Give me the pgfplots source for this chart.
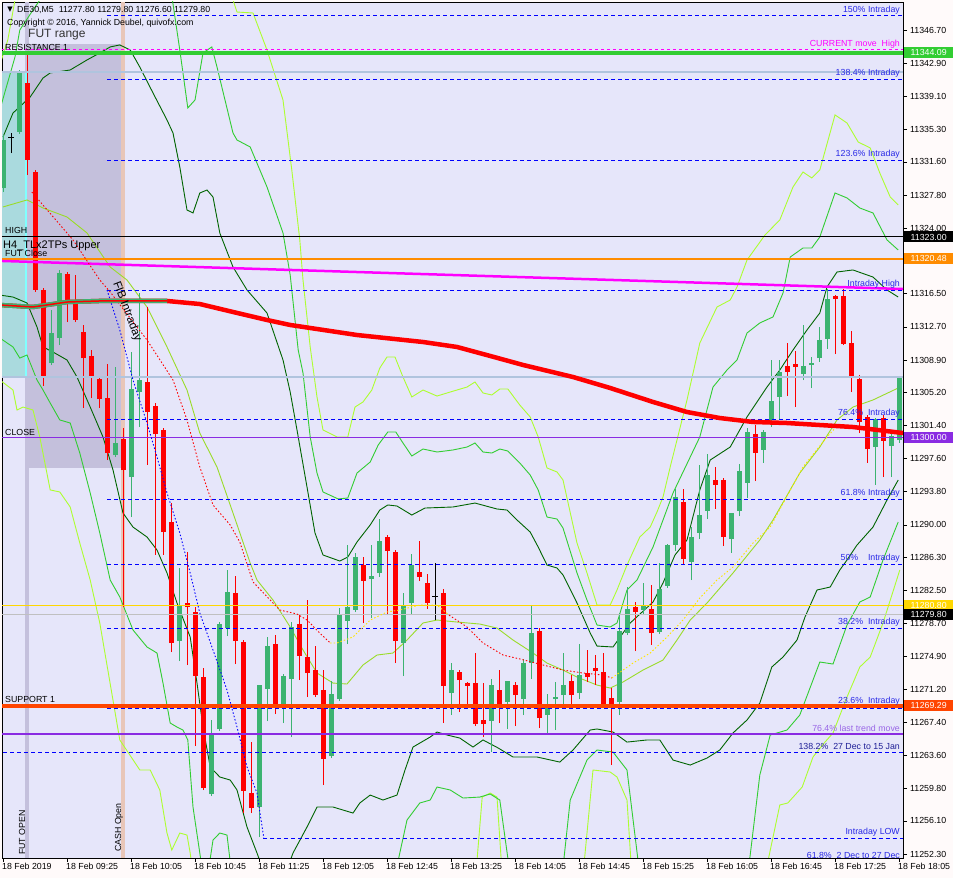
\documentclass[border=0pt]{standalone}
\usepackage{pgfplots}
\pgfplotsset{compat=1.18}
\usepackage{pgfplotstable}
\usepackage{fontspec}
\setmainfont{Liberation Sans}
\newfontfamily\dejavu{DejaVu Sans}
\definecolor{lav}{RGB}{230,230,250}
\definecolor{snowc}{RGB}{255,250,250}
\definecolor{cgreen}{RGB}{60,179,113}
\definecolor{dgreen}{RGB}{0,100,0}
\definecolor{mgreen}{RGB}{50,205,50}
\definecolor{lgreen}{RGB}{173,255,47}
\definecolor{midline}{RGB}{154,220,40}
\definecolor{futbox}{RGB}{196,192,220}
\definecolor{tealbox}{RGB}{170,218,222}
\definecolor{cyanl}{RGB}{128,255,255}
\definecolor{cashc}{RGB}{232,198,184}
\definecolor{steel}{RGB}{176,196,222}
\definecolor{orng}{RGB}{255,140,0}
\definecolor{ored}{RGB}{255,69,0}
\definecolor{bviolet}{RGB}{138,43,226}
\definecolor{goldc}{RGB}{255,215,0}
\definecolor{silv}{RGB}{192,192,192}
\definecolor{mag}{RGB}{255,0,255}
\definecolor{dblue}{RGB}{0,0,255}
\definecolor{dred}{RGB}{255,0,0}
\definecolor{yel}{RGB}{255,230,0}
\definecolor{fibtxt}{RGB}{40,40,230}
\definecolor{trendtxt}{RGB}{153,102,230}
\definecolor{navytxt}{RGB}{30,30,150}
\newcommand{\lab}{\fontsize{8.8}{10}\selectfont}
\newcommand{\fibfont}{\fontsize{11.5}{13}\selectfont}

\pgfplotstableread{
i o h l c
0 11328.60 11334.67 11328.14 11334.10
2 11335.02 11342.12 11334.79 11341.77
6 11308.55 11314.62 11308.32 11311.99
7 11311.42 11319.21 11310.61 11318.86
14 11298.01 11308.09 11297.78 11299.39
16 11295.49 11309.81 11290.91 11305.57
17 11305.23 11316.57 11301.22 11306.60
22 11276.70 11285.07 11274.41 11280.83
26 11259.18 11267.65 11258.95 11265.94
27 11266.62 11278.88 11266.39 11278.65
28 11278.19 11284.84 11277.28 11282.32
32 11257.69 11271.66 11254.25 11271.66
33 11271.21 11277.16 11267.54 11276.13
35 11269.14 11272.92 11267.31 11272.69
36 11272.35 11278.88 11265.71 11278.31
41 11263.53 11272.12 11263.30 11270.63
42 11270.06 11280.49 11269.83 11279.68
43 11279.00 11287.70 11276.36 11280.60
44 11280.26 11286.79 11280.03 11286.33
46 11283.81 11287.70 11279.34 11284.15
47 11284.49 11290.68 11284.04 11288.16
50 11276.47 11282.20 11272.69 11280.83
51 11281.06 11286.67 11279.68 11285.41
56 11270.75 11274.18 11268.23 11273.38
61 11267.54 11272.35 11263.99 11271.66
63 11269.72 11272.12 11266.62 11272.12
65 11270.06 11274.64 11268.23 11274.18
66 11274.18 11280.83 11272.35 11277.62
68 11268.23 11270.63 11266.17 11269.14
69 11270.06 11272.01 11266.51 11270.29
70 11270.52 11275.33 11269.49 11271.66
72 11270.75 11276.36 11270.06 11272.81
77 11269.72 11279.91 11268.23 11277.85
78 11277.62 11282.89 11277.39 11280.37
80 11280.26 11283.35 11279.68 11280.83
82 11277.74 11285.64 11277.51 11282.66
83 11283.01 11287.82 11282.78 11287.70
84 11287.70 11294.12 11287.01 11293.20
86 11285.75 11289.76 11283.69 11288.62
87 11289.08 11296.87 11288.39 11291.14
88 11291.60 11298.13 11290.68 11295.72
91 11288.39 11291.37 11286.79 11291.37
92 11291.60 11296.98 11291.02 11296.18
93 11294.81 11301.10 11293.09 11300.65
95 11298.59 11300.88 11297.10 11300.65
96 11302.02 11308.90 11301.22 11304.20
97 11304.66 11308.90 11302.14 11307.52
100 11307.29 11312.90 11306.60 11308.21
101 11308.32 11309.24 11305.69 11308.55
102 11309.12 11312.68 11308.67 11311.19
103 11311.30 11317.03 11310.16 11315.88
109 11298.93 11302.25 11294.58 11302.14
111 11299.04 11300.42 11295.49 11300.19
112 11299.73 11307.06 11299.39 11306.83
}\greenc

\pgfplotstableread{
i o h l c
3 11340.63 11344.07 11330.09 11331.81
4 11330.43 11330.66 11316.69 11316.92
5 11316.92 11317.14 11305.92 11306.95
8 11318.75 11318.98 11313.25 11315.77
9 11315.54 11318.63 11313.25 11313.48
10 11312.10 11312.90 11303.40 11309.12
11 11309.35 11310.04 11304.54 11306.95
12 11306.72 11306.95 11303.40 11304.43
13 11304.54 11308.44 11297.44 11298.24
15 11299.84 11301.10 11280.60 11296.29
18 11306.37 11314.97 11296.87 11302.94
19 11303.63 11303.97 11286.56 11300.42
20 11300.88 11301.10 11286.56 11289.19
21 11290.34 11292.51 11275.44 11276.47
23 11281.06 11286.90 11273.95 11280.60
24 11280.03 11280.60 11264.67 11272.69
25 11272.58 11273.61 11259.63 11259.86
29 11282.20 11284.15 11274.07 11276.70
30 11276.59 11276.82 11257.00 11259.52
31 11259.29 11265.13 11257.00 11257.57
34 11276.36 11277.39 11268.34 11269.14
37 11278.65 11279.68 11272.24 11274.99
38 11274.87 11281.40 11270.29 11273.04
39 11273.38 11276.13 11270.29 11270.52
40 11271.09 11273.38 11260.21 11263.19
45 11285.41 11286.33 11278.77 11283.58
48 11288.62 11288.85 11279.68 11287.01
49 11286.90 11287.13 11274.18 11276.70
52 11284.61 11288.16 11283.58 11284.04
53 11283.35 11284.38 11280.37 11281.06
55 11282.20 11282.66 11267.31 11271.55
57 11273.15 11273.38 11268.57 11272.24
58 11271.89 11272.01 11269.49 11271.55
59 11271.89 11275.33 11266.97 11267.20
60 11267.65 11271.89 11265.71 11267.20
62 11271.09 11273.38 11267.31 11269.49
64 11271.66 11272.01 11266.97 11270.52
67 11277.85 11278.19 11266.74 11267.88
71 11272.12 11272.81 11269.49 11270.52
73 11273.04 11275.68 11272.01 11272.58
74 11273.61 11275.10 11271.66 11273.27
75 11273.15 11275.33 11269.14 11269.49
76 11270.17 11271.32 11262.50 11269.49
79 11280.60 11281.17 11275.56 11280.03
81 11280.37 11283.12 11276.25 11277.62
85 11292.63 11294.12 11285.53 11286.10
89 11295.15 11296.64 11291.83 11294.58
90 11295.15 11295.38 11287.59 11288.62
94 11300.42 11301.45 11295.03 11298.24
98 11308.21 11310.84 11304.77 11307.52
99 11308.44 11309.93 11303.51 11308.09
104 11316.23 11316.34 11309.58 11315.88
105 11316.23 11317.03 11310.61 11310.73
106 11310.84 11312.22 11305.23 11306.83
107 11306.72 11307.18 11300.53 11301.79
108 11302.37 11302.59 11297.10 11298.70
110 11302.25 11302.59 11295.49 11299.62
}\redc

\pgfplotstableread{
i o h l c
1 11334.44 11334.90 11332.61 11334.44
54 11281.86 11285.64 11279.11 11281.86
}\dojic

\begin{document}
\begin{tikzpicture}
\fill[snowc] (0pt,0pt) rectangle (953pt,878pt);
\useasboundingbox (0pt,0pt) rectangle (953pt,878pt);
\begin{axis}[
  at={(2pt,20pt)}, anchor=south west,
  width=901pt, height=856pt, scale only axis,
  xmin=-0.125, xmax=112.5, ymin=11251.85, ymax=11349.91,
  axis background/.style={fill=lav},
  axis line style={black, line width=0.8pt},
  tick style={black, line width=0.6pt},
  tick align=outside, major tick length=4pt,
  xtick pos=bottom, ytick pos=right, yticklabel pos=right,
  xtick={0,8,...,112},
  xticklabels={18 Feb 2019,18 Feb 09:25,18 Feb 10:05,18 Feb 10:45,18 Feb 11:25,18 Feb 12:05,18 Feb 12:45,18 Feb 13:25,18 Feb 14:05,18 Feb 14:45,18 Feb 15:25,18 Feb 16:05,18 Feb 16:45,18 Feb 17:25,18 Feb 18:05},
  xticklabel style={anchor=north west, inner sep=0pt, xshift=-1pt, yshift=-1pt, font=\lab},
  ytick={11346.70,11342.90,11339.10,11335.30,11331.60,11327.80,11324.00,11316.50,11312.70,11308.90,11305.20,11301.40,11297.60,11293.80,11290.00,11286.30,11282.50,11278.70,11274.90,11271.20,11267.40,11263.60,11259.80,11256.10,11252.30},
  yticklabels={11346.70,11342.90,11339.10,11335.30,11331.60,11327.80,11324.00,11316.50,11312.70,11308.90,11305.20,11301.40,11297.60,11293.80,11290.00,11286.30,11282.50,11278.70,11274.90,11271.20,11267.40,11263.60,11259.80,11256.10,11252.30},
  yticklabel style={anchor=west, inner sep=0pt, xshift=3pt, font=\lab},
  clip=true,
]
% shaded boxes and session strips
\fill[tealbox] (axis cs:-0.2,11306.95) rectangle (axis cs:2.9,11341.89);
\fill[futbox] (axis cs:2.9,11296.53) rectangle (axis cs:14.9,11345.10);
\fill[futbox] (axis cs:2.75,11251.85) rectangle (axis cs:3.25,11349.91);
\fill[cashc] (axis cs:14.75,11251.85) rectangle (axis cs:15.25,11349.91);
\addplot[cyanl, line width=1.5pt, forget plot] coordinates {(2.9,11306.95) (2.9,11341.89)};

% bands
\addplot[lgreen, line width=0.9pt] coordinates {(-0.4,11342.69)(0.6,11345.56)(1.5,11350.14)(1.9,11351.86)(27.75,11351.86)(28.75,11350.14)(29.25,11348.76)(31.25,11348.65)(33,11344.41)(35,11338.68)(36.1,11330.66)(37.1,11322.65)(37.5,11318.06)(38.4,11310.39)(39.25,11304.66)(40,11300.88)(41.75,11300.08)(43.1,11300.08)(44,11303.51)(45,11304.09)(46.1,11305.46)(47.1,11307.98)(48,11309.24)(49,11309.24)(50,11306.95)(51.1,11304.66)(52.5,11305.46)(54.25,11304.77)(55.9,11305.23)(58,11305.80)(59,11306.38)(60,11305.12)(61.1,11304.89)(62.1,11305.58)(63.1,11305.58)(64.6,11303.74)(65.9,11302.37)(66.9,11300.08)(68,11296.53)(69.25,11296.07)(70,11295.15)(71.75,11287.93)(73,11284.50)(74.25,11280.83)(75.9,11280.83)(76.75,11282.55)(78,11285.41)(79.6,11288.62)(80.9,11289.76)(81.75,11291.49)(82.5,11293.20)(83.4,11296.64)(85.5,11304.32)(87.1,11310.84)(89.25,11314.97)(90.9,11315.77)(91.75,11317.26)(93,11320.35)(95.25,11323.22)(97.1,11324.94)(98.75,11328.72)(100,11330.43)(101.1,11329.75)(102.1,11330.66)(104,11336.97)(105.5,11336.05)(106.9,11333.87)(108.4,11333.19)(109.6,11330.32)(110.9,11327.57)(111.9,11326.65)};
\addplot[lgreen, line width=0.9pt] coordinates {(-0.4,11306.61)(1.25,11305.46)(1.75,11303.17)(2.5,11303.51)(3.75,11303.17)(4.6,11300.08)(5.9,11294.01)(7.1,11293.78)(8.4,11292.06)(9.6,11287.93)(10.9,11283.69)(12.1,11278.77)(14.6,11265.37)(17.1,11261.93)(18.4,11261.93)(19.6,11259.64)(20.5,11254.71)(21.1,11252.76)(22.1,11254.71)(23,11254.48)(23.4,11252.42)(23.75,11249.90)(59.1,11249.90)(59.9,11258.83)(60.9,11259.29)(61.75,11258.83)(62.4,11249.90)(72.5,11249.90)(73.75,11261.93)(75.9,11261.70)(76.75,11261.13)(78,11258.49)(78.6,11249.90)(95.25,11249.90)(97.1,11257.92)(98.1,11258.15)(99.9,11259.98)(101.25,11263.42)(102.75,11265.13)(103.75,11266.17)(105.5,11270.29)(107.1,11273.73)(108.4,11274.87)(110,11278.77)(112.1,11284.84)};
\addplot[mgreen, line width=0.9pt] coordinates {(-0.4,11337.54)(1.5,11343.61)(2.1,11346.70)(3.75,11348.99)(5.9,11351.86)(20.9,11351.86)(22.1,11344.41)(23.1,11337.77)(24,11338.68)(25,11344.07)(26.1,11344.76)(26.75,11342.46)(28.75,11334.90)(29.25,11334.10)(30.9,11333.30)(33,11328.72)(35,11323.45)(35.9,11318.63)(36.9,11310.04)(37.5,11307.41)(38.4,11300.08)(39.25,11295.95)(40,11293.78)(41.9,11292.98)(43.1,11293.09)(44.25,11295.95)(45.9,11297.21)(46.9,11299.16)(48.1,11300.65)(49.1,11300.65)(50,11299.39)(51.1,11297.90)(52.5,11298.70)(54.25,11298.36)(56.25,11298.59)(58,11298.93)(59,11299.39)(60,11298.36)(61.1,11298.24)(62.1,11298.70)(63.1,11298.47)(64.6,11297.10)(65.9,11295.72)(66.9,11294.01)(68,11290.91)(69.25,11290.68)(70,11289.65)(71.75,11284.50)(73,11281.40)(74.25,11278.54)(75.9,11278.31)(76.75,11278.77)(78,11282.55)(79.25,11283.69)(81.25,11287.47)(83.75,11293.66)(87.1,11300.08)(88.75,11305.80)(90.5,11307.75)(91.75,11308.90)(93,11311.99)(94.6,11313.14)(96.25,11313.83)(97.5,11316.57)(98.4,11320.69)(100,11321.73)(101.1,11321.73)(102.1,11322.99)(104,11328.03)(105.5,11327.46)(107.1,11326.31)(108.75,11325.74)(110.5,11322.65)(111.9,11321.50)};
\addplot[mgreen, line width=0.9pt] coordinates {(-0.4,11311.42)(1.25,11310.39)(2.1,11309.12)(3,11309.47)(4.25,11306.61)(5,11305.46)(5.9,11303.97)(7.1,11302.03)(8.4,11301.68)(9.6,11298.24)(10.9,11293.67)(12.1,11289.08)(13.4,11283.69)(14.6,11281.75)(16.25,11277.97)(18,11276.02)(19.25,11275.33)(20,11271.89)(20.9,11267.31)(21.75,11266.85)(22.5,11266.51)(23.1,11265.37)(23.75,11257.69)(24.6,11252.42)(25,11249.90)(25.6,11249.90)(26.25,11253.91)(27.1,11254.71)(28,11254.48)(28.6,11249.90)(49,11249.90)(50.5,11256.20)(52.1,11258.15)(53.4,11258.49)(54.25,11259.98)(55.9,11259.64)(57.5,11258.72)(59.6,11258.83)(60.9,11259.18)(62.1,11258.49)(63.4,11249.90)(69.9,11249.90)(70.9,11258.49)(73,11263.07)(74.25,11264.22)(76.25,11263.99)(78,11261.93)(79.6,11249.90)(93.1,11249.90)(94.6,11261.35)(95.9,11265.94)(98,11266.51)(99.6,11268.23)(102.1,11274.30)(103.75,11274.07)(105.5,11278.54)(107.1,11281.17)(108.4,11281.75)(110,11285.99)(111.9,11290.34)};
\addplot[dgreen, line width=0.9pt] coordinates {(0,11334.44)(1.25,11337.19)(3.4,11339.03)(5,11341.20)(5.9,11341.78)(8.4,11342.12)(10.5,11343.27)(12.1,11344.07)(13.4,11344.76)(14.6,11344.99)(15.9,11344.41)(17.1,11342.46)(18.75,11339.49)(20.5,11336.39)(21.25,11334.90)(22.1,11331.01)(23,11326.08)(23.75,11325.74)(24.6,11328.03)(25.5,11328.37)(26.25,11327.57)(27.1,11323.45)(28.75,11319.55)(30.5,11316.92)(33,11314.28)(35,11308.90)(35.9,11305.23)(36.75,11300.88)(38,11294.35)(39,11289.08)(40,11286.56)(42.1,11285.87)(43.1,11286.33)(44.25,11288.05)(45.9,11290.00)(47.1,11291.71)(48.1,11292.29)(49.25,11292.17)(51.1,11291.14)(52.75,11291.94)(56.25,11292.06)(59,11292.51)(61.75,11291.83)(63,11291.71)(64.25,11290.57)(65.9,11289.19)(66.9,11287.47)(68,11285.41)(69.25,11285.07)(70,11284.27)(71.75,11281.06)(73.4,11277.62)(74.25,11276.13)(76.25,11276.02)(78.4,11278.77)(81.25,11281.17)(82.5,11283.35)(84,11286.56)(85.5,11288.28)(87.1,11294.01)(88.4,11297.44)(90.9,11298.93)(93,11302.37)(95.5,11305.80)(97.1,11307.75)(98.75,11310.04)(100.5,11312.34)(102.1,11314.28)(103,11317.26)(104.25,11318.98)(106.25,11319.21)(108.75,11318.40)(110.5,11316.92)(111.9,11316.11)};
\addplot[dgreen, line width=0.9pt] coordinates {(-0.4,11316.34)(1.25,11316.11)(3,11315.43)(4.25,11312.68)(5,11310.39)(6.25,11309.81)(8,11308.90)(9.25,11306.95)(10.9,11303.51)(12.5,11300.08)(13.75,11296.30)(15,11291.37)(16.25,11289.76)(18,11288.62)(19.25,11287.13)(20.5,11284.50)(21.75,11281.06)(23.4,11277.16)(24.25,11271.89)(25,11266.85)(25.9,11262.27)(27.1,11261.13)(28.4,11260.78)(29.25,11259.64)(30.5,11255.40)(31.75,11252.42)(32.75,11249.90)(35.25,11249.90)(36.25,11252.42)(38,11255.40)(39.25,11257.69)(41.25,11257.69)(43.75,11257.00)(44.6,11258.15)(45.9,11259.06)(47.5,11258.49)(49.25,11259.06)(50.25,11261.93)(51.25,11264.56)(53.4,11265.71)(54.25,11266.28)(55.5,11265.94)(57.1,11265.59)(58.75,11264.56)(60,11265.37)(61.9,11264.45)(63.75,11263.42)(66.75,11263.42)(69.6,11262.84)(71.25,11264.22)(73.4,11266.51)(74.25,11266.63)(76.25,11266.28)(78,11265.13)(80.5,11265.37)(82.1,11265.37)(83.75,11263.07)(85.9,11262.50)(88,11263.30)(89.6,11264.22)(91.25,11266.17)(93,11267.66)(94.6,11269.60)(96.1,11273.73)(97.5,11274.87)(99.25,11276.82)(100.25,11279.46)(101.75,11282.55)(103.4,11282.89)(104.6,11284.84)(105.5,11285.99)(106.75,11287.70)(108.75,11289.76)(110.5,11292.86)(111.9,11295.15)};
% middle line
\addplot[midline, line width=0.9pt] coordinates {(0,11326.43)(3,11327.23)(5,11326.31)(8,11325.28)(10.5,11323.45)(13.4,11319.55)(15.5,11318.06)(18,11314.97)(20.5,11310.39)(23,11305.46)(24.6,11300.53)(26.75,11296.64)(28.75,11291.37)(30.9,11285.64)(31.75,11283.69)(33.75,11281.40)(35.9,11278.31)(37.5,11275.68)(39.25,11273.04)(41.25,11271.89)(43,11271.78)(45,11273.96)(46.75,11275.10)(48.75,11275.33)(50.5,11276.82)(52.5,11278.77)(54.25,11279.11)(56.75,11278.88)(59.6,11278.65)(61.75,11278.19)(63.75,11276.82)(66.25,11275.33)(68,11274.18)(70,11273.38)(71.75,11272.58)(74.25,11271.66)(75.9,11271.32)(77.5,11272.01)(80,11273.38)(82.5,11274.53)(84.25,11276.82)(85.9,11279.11)(88,11281.06)(91.25,11284.50)(94.6,11288.28)(96.25,11290.57)(99.6,11295.95)(102.1,11298.93)(104.25,11302.03)(106.25,11303.51)(108.75,11304.32)(111.9,11305.69)};

% candles: wicks
\addplot[mark=none, draw=none, forget plot, error bars/.cd, y dir=plus, y explicit, error mark=none, error bar style={draw=cgreen, line width=1pt, solid}]
  table[x=i, y=l, y error plus expr=\thisrow{h}-\thisrow{l}] {\greenc};
\addplot[mark=none, draw=none, forget plot, error bars/.cd, y dir=plus, y explicit, error mark=none, error bar style={draw=dred, line width=1pt, solid}]
  table[x=i, y=l, y error plus expr=\thisrow{h}-\thisrow{l}] {\redc};
\addplot[mark=none, draw=none, forget plot, error bars/.cd, y dir=plus, y explicit, error mark=none, error bar style={draw=black, line width=1pt, solid}]
  table[x=i, y=l, y error plus expr=\thisrow{h}-\thisrow{l}] {\dojic};
% bodies
\addplot[mark=none, draw=none, forget plot, error bars/.cd, y dir=plus, y explicit, error mark=none, error bar style={draw=cgreen, line width=5pt, line cap=butt, solid}]
  table[x=i, y=o, y error plus expr=\thisrow{c}-\thisrow{o}] {\greenc};
\addplot[mark=none, draw=none, forget plot, error bars/.cd, y dir=plus, y explicit, error mark=none, error bar style={draw=dred, line width=5pt, line cap=butt, solid}]
  table[x=i, y=c, y error plus expr=\thisrow{o}-\thisrow{c}] {\redc};
\addplot[only marks, mark=-, mark size=3pt, black, mark options={line width=1pt}, forget plot] table[x=i, y=o] {\dojic};

% horizontal levels
\addplot[dblue, dash pattern=on 4pt off 3pt, line width=0.9pt] coordinates {(13,11348.42) (112.5,11348.42)};
\addplot[mgreen, line width=4pt] coordinates {(-0.2,11344.09) (112.5,11344.09)};
\addplot[mag, dash pattern=on 3pt off 3pt, line width=0.9pt] coordinates {(-0.2,11344.45) (112.5,11344.45)};
\addplot[steel, line width=2.5pt] coordinates {(-0.2,11341.89) (112.5,11341.89)};
\addplot[dblue, dash pattern=on 4pt off 3pt, line width=0.9pt] coordinates {(13,11341.09) (112.5,11341.09)};
\addplot[dblue, dash pattern=on 4pt off 3pt, line width=0.9pt] coordinates {(13,11331.81) (112.5,11331.81)};
\addplot[black, line width=0.9pt] coordinates {(-0.2,11323.00) (112.5,11323.00)};
\addplot[orng, line width=2.5pt] coordinates {(-0.2,11320.48) (112.5,11320.48)};
\addplot[mag, line width=2.5pt] coordinates {(-0.4,11320.25) (112.5,11317.03)};
\addplot[dblue, dash pattern=on 4pt off 3pt, line width=0.9pt] coordinates {(13,11316.92) (112.5,11316.92)};
\addplot[steel, line width=2.5pt] coordinates {(-0.2,11306.95) (112.5,11306.95)};
\addplot[dblue, dash pattern=on 4pt off 3pt, line width=0.9pt] coordinates {(13,11302.14) (112.5,11302.14)};
\addplot[bviolet, line width=1.2pt] coordinates {(-0.2,11300.00) (112.5,11300.00)};
\addplot[dblue, dash pattern=on 4pt off 3pt, line width=0.9pt] coordinates {(13,11292.97) (112.5,11292.97)};
\addplot[dblue, dash pattern=on 4pt off 3pt, line width=0.9pt] coordinates {(13,11285.53) (112.5,11285.53)};
\addplot[goldc, line width=0.9pt] coordinates {(-0.2,11280.80) (112.5,11280.80)};
\addplot[silv, line width=0.9pt] coordinates {(-0.2,11279.80) (112.5,11279.80)};
\addplot[dblue, dash pattern=on 4pt off 3pt, line width=0.9pt] coordinates {(13,11278.19) (112.5,11278.19)};
\addplot[dblue, dash pattern=on 4pt off 3pt, line width=0.9pt] coordinates {(13,11269.03) (112.5,11269.03)};
\addplot[ored, line width=4.5pt] coordinates {(-0.2,11269.29) (112.5,11269.29)};
\addplot[bviolet, line width=2.5pt] coordinates {(-0.2,11266.05) (112.5,11266.05)};
\addplot[dblue, dash pattern=on 4pt off 3pt, line width=0.9pt] coordinates {(0,11263.99) (112.5,11263.99)};
\addplot[dblue, dash pattern=on 4pt off 3pt, line width=0.9pt] coordinates {(32.5,11254.14) (112.5,11254.14)};

% blue dotted fib trend
\addplot[dblue, dash pattern=on 1.5pt off 2pt, line width=0.9pt] coordinates {(13,11316.92)(14.6,11312.34)(16.25,11306.61)(18,11301.68)(19.25,11297.79)(20.5,11293.67)(22.1,11289.08)(23.4,11284.50)(24.6,11279.91)(26.25,11275.68)(28,11271.09)(29.25,11266.85)(30.5,11262.27)(31.75,11259.29)(32.6,11254.14)};
% dotted MA (red falling / yellow rising)
\addplot[dred, dash pattern=on 1.5pt off 2pt, line width=0.9pt] coordinates {(3.6,11328.14)(8.75,11322.65)(12.1,11318.06)(13.4,11316.69)(18,11311.19)(21.25,11306.61)(23,11302.03)(24.6,11296.64)(26.25,11292.29)(28.4,11290.00)(29.6,11288.05)(31.25,11283.47)(33.4,11281.40)(34.6,11280.26)(36.75,11279.80)(38,11279.11)(39.6,11277.62)(40.9,11276.48)};
\addplot[yel, dash pattern=on 1.5pt off 2pt, line width=0.9pt] coordinates {(40.9,11276.48)(41.75,11276.48)(43.75,11277.17)(45.9,11279.11)(48,11280.03)(49.6,11280.26)(52.1,11280.83)(54.25,11280.83)(55.75,11279.68)};
\addplot[dred, dash pattern=on 1.5pt off 2pt, line width=0.9pt] coordinates {(55.75,11279.68)(58,11278.31)(60,11276.48)(62.5,11275.10)(64.6,11274.65)(67.5,11273.96)(70,11273.38)(72.5,11273.04)(75,11272.81)(76.1,11272.47)};
\addplot[yel, dash pattern=on 1.5pt off 2pt, line width=0.9pt] coordinates {(76.1,11272.47)(78.75,11274.18)(80.9,11275.33)(83,11277.16)(85,11279.11)(87.1,11281.63)(89.25,11283.69)(91.25,11285.18)(93.75,11287.93)(95.9,11289.77)(100,11296.64)(103,11300.08)(104.6,11301.68)};

% thick MA
\addplot[dred, line width=4.5pt] coordinates {(-0.4,11315.20)(3.75,11314.97)(8,11315.54)(12.1,11315.66)(20.5,11315.66)(24.6,11315.31)(28.75,11314.40)(33,11313.48)(35.9,11312.91)(44.25,11311.76)(52.5,11310.96)(56.75,11310.39)(60.9,11309.36)(65,11308.33)(71.25,11306.95)(75.9,11305.69)(81.25,11304.09)(85.5,11302.94)(89.6,11302.25)(93.75,11301.80)(98,11301.68)(102.1,11301.45)(106.25,11301.22)(112.5,11300.53)};
\addplot[cgreen, line width=4.5pt] coordinates {(-0.4,11315.20)(3.75,11314.97)(8,11315.54)(12.1,11315.66)(20.5,11315.66)};
\addplot[dred, line width=1.5pt] coordinates {(-0.4,11315.20)(3.75,11314.97)(8,11315.54)(12.1,11315.66)(20.5,11315.66)};
\end{axis}

\begin{scope}[x=1pt, y=-1pt, shift={(0pt,878pt)}, every node/.append style={inner sep=0pt}]
\node[font=\dejavu\fontsize{7}{8}\selectfont] at (10,10) {▼};
\node[anchor=west, font=\lab] at (17,10) {DE30,M5\ \ 11277.80 11279.80 11276.60 11279.80};
\node[anchor=west, font=\lab] at (7,23) {Copyright © 2016, Yannick Deubel, quivofx.com};
\node[anchor=west, font=\fontsize{12}{14}\selectfont, text=black!80] at (28,35) {FUT range};
\node[anchor=west, font=\lab] at (5,47) {RESISTANCE 1};
\node[anchor=west, font=\lab] at (5,230) {HIGH};
\node[anchor=west, font=\fontsize{11}{13}\selectfont] at (3,246) {H4\_TLx2TPs Upper};
\node[anchor=west, font=\lab] at (5,253) {FUT Close};
\node[anchor=west, font=\lab] at (5,432) {CLOSE};
\node[anchor=west, font=\lab] at (5,699) {SUPPORT 1};
\node[anchor=west, rotate=90, font=\lab] at (22,855) {FUT OPEN};
\node[anchor=west, rotate=90, font=\lab] at (119,852) {CASH Open};
\node[anchor=north west, rotate=-69, font=\fibfont] at (121,280) {FIB Intraday};
% right-hand level labels
\node[anchor=east, font=\lab, text=fibtxt] at (900,10) {150\% Intraday};
\node[anchor=east, font=\lab, text=mag] at (900,44) {CURRENT move\ \ High};
\node[anchor=east, font=\lab, text=fibtxt] at (900,73) {138.4\% Intraday};
\node[anchor=east, font=\lab, text=fibtxt] at (900,154) {123.6\% Intraday};
\node[anchor=east, font=\lab, text=fibtxt] at (900,284) {Intraday High};
\node[anchor=east, font=\lab, text=fibtxt] at (900,413) {76.4\%\ \ Intraday};
\node[anchor=east, font=\lab, text=fibtxt] at (900,493) {61.8\% Intraday};
\node[anchor=east, font=\lab, text=fibtxt] at (900,558) {50\%\ \ \ \ Intraday};
\node[anchor=east, font=\lab, text=fibtxt] at (900,622) {38.2\%\ \ Intraday};
\node[anchor=east, font=\lab, text=fibtxt] at (900,701) {23.6\%\ \ Intraday};
\node[anchor=east, font=\lab, text=trendtxt] at (900,728) {76.4\% last trend move};
\node[anchor=east, font=\lab, text=navytxt] at (900,746) {138.2\%\ \ 27 Dec to 15 Jan};
\node[anchor=east, font=\lab, text=fibtxt] at (900,832) {Intraday LOW};
\begin{scope}
\clip (2,2) rectangle (903,858);
\node[anchor=east, font=\lab, text=fibtxt] at (900,855) {61.8\%\ \ 2 Dec to 27 Dec};
\end{scope}
% price boxes on the right axis
\node[anchor=west, fill=mgreen, text=white, font=\lab, minimum width=50pt, minimum height=11pt] at (903.5,52.8) {11344.09};
\node[anchor=west, fill=black, text=white, font=\lab, minimum width=50pt, minimum height=11pt] at (903.5,237) {11323.00};
\node[anchor=west, fill=orng, text=white, font=\lab, minimum width=50pt, minimum height=11pt] at (903.5,258.9) {11320.48};
\node[anchor=west, fill=bviolet, text=white, font=\lab, minimum width=50pt, minimum height=11pt] at (903.5,437.7) {11300.00};
\node[anchor=west, fill=goldc, text=white, font=\lab, minimum width=50pt, minimum height=11pt] at (903.5,605.3) {11280.80};
\node[anchor=west, fill=black, text=white, font=\lab, minimum width=50pt, minimum height=11pt] at (903.5,614.5) {11279.80};
\node[anchor=west, fill=ored, text=white, font=\lab, minimum width=50pt, minimum height=11pt] at (903.5,705.8) {11269.29};
\end{scope}
\end{tikzpicture}
\end{document}
